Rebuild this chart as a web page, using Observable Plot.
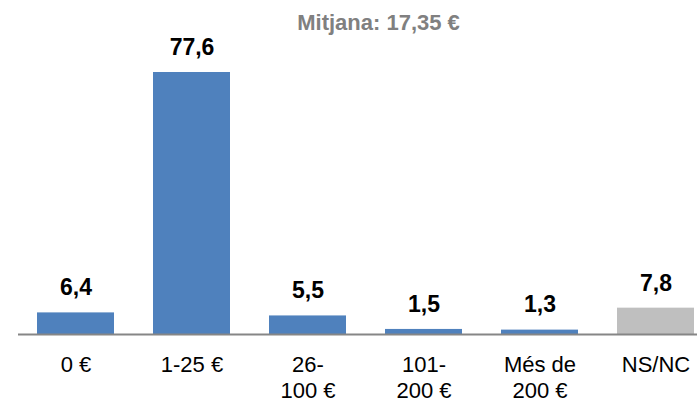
<!DOCTYPE html>
<html>
<head>
<meta charset="utf-8">
<script src="https://cdn.jsdelivr.net/npm/d3@7"></script>
<script src="https://cdn.jsdelivr.net/npm/@observablehq/plot@0.6"></script>
<style>
  body { margin: 0; background: #fff; }
  #chart svg { display: block; }
</style>
</head>
<body>
<div id="chart"></div>
<script>
const categories = ["0 €", "1-25 €", "26-\n100 €", "101-\n200 €", "Més de\n200 €", "NS/NC"];
const values = [6.4, 77.6, 5.5, 1.5, 1.3, 7.8];
const title = "Mitjana: 17,35 €";

const data = categories.map((c, i) => ({cat: c, value: values[i]}));
const fmt = v => v.toFixed(1).replace(".", ",");

const chart = Plot.plot({
  width: 697,
  height: 402,
  marginLeft: 18,
  marginRight: 0,
  marginTop: 0,
  marginBottom: 0,
  style: {fontFamily: "'Liberation Sans', Arial, sans-serif", background: "#fff"},
  x: {domain: categories, range: [17.5, 713.5], paddingInner: 0.336, paddingOuter: 0.168, axis: null},
  y: {domain: [0, 77.6], range: [334, 72], axis: null},
  marks: [
    Plot.barY(data.filter(d => d.cat !== "NS/NC"), {x: "cat", y: "value", fill: "#4F81BD"}),
    Plot.barY(data.filter(d => d.cat === "NS/NC"), {x: "cat", y: "value", fill: "#BFBFBF"}),
    Plot.ruleY([0], {stroke: "#868686", strokeWidth: 2}),
    Plot.text(data, {x: "cat", y: "value", text: d => fmt(d.value), dy: -34, lineAnchor: "top", fontSize: 23, fontWeight: "bold", fill: "#000"}),
    Plot.text(data, {x: "cat", y: 0, text: "cat", dy: 19, lineAnchor: "top", lineHeight: 1.18, fontSize: 22, fill: "#000"}),
    Plot.text([title], {frameAnchor: "top-left", textAnchor: "middle", dx: 360, dy: 14, lineAnchor: "top", fontSize: 22, fontWeight: "bold", fill: "#808080"})
  ]
});
document.getElementById("chart").appendChild(chart);
</script>
</body>
</html>
